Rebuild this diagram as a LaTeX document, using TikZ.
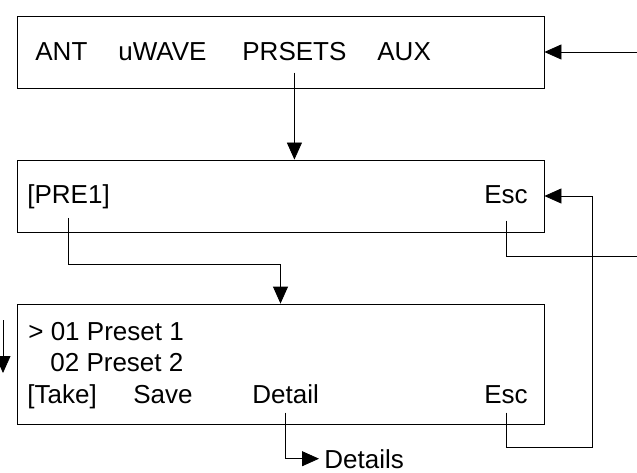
\documentclass[tikz,border=0pt]{standalone}
\usepackage{fontspec}
\setmainfont{Liberation Sans}
\usetikzlibrary{arrows.meta}
\tikzset{
  screen/.style={draw, minimum width=527pt, inner sep=0pt},
  key/.style={anchor=base west, inner sep=0pt, font=\fontsize{26}{31}\selectfont},
}
\begin{document}
\begin{tikzpicture}[>={Triangle[length=17pt,width=15pt]}, x=1pt, y=-1pt, line width=.8pt]
\useasboundingbox (0,0) rectangle (637,473);

\node[screen, minimum height=72pt](menu) at (280.5,52){};
\node[key](ant) at (35,61){ANT};
\node[key](uwave) at (118,61){uWAVE};
\node[key](prsets) at (242,61){PRSETS};
\node[key](aux) at (377,61){AUX};

\node[screen, minimum height=72pt](prst) at (280.5,196){};
\node[key](pre) at (27,204){[PRE1]};
\node[key](escb) at (484,204){Esc};

\node[screen, minimum height=120pt](list) at (280.5,364){};
\node[key](p1) at (28,340){> 01 Preset 1};
\node[key](p2) at (50,371){02 Preset 2};
\node[key](take) at (27,403){[Take]};
\node[key](save) at (133,403){Save};
\node[key](detail) at (252,403){Detail};
\node[key](escc) at (484,403){Esc};
\node[key](details) at (324,468){Details};

\coordinate (in1) at (637,52);
\coordinate (out2) at (637,256);
\coordinate (back) at (592,447);
\coordinate (inL) at (3,320);
\coordinate (inLend) at (3,373);

\draw[->](in1)--(menu.east);
\draw[->]([yshift=-11pt]prsets.south)--(prsets.south |- prst.north);
\draw[->]([yshift=-8pt]pre.south)--++(0,47)-|(list.north);
\draw([yshift=-16pt]escb.south)|-(out2);
\draw[->]([yshift=-9pt]escc.south)|-(back)|-(prst.east);
\draw[->]([yshift=-9pt]detail.south)|-([xshift=-5pt]details.west);
\draw[->](inL)--(inLend);

\end{tikzpicture}
\end{document}
